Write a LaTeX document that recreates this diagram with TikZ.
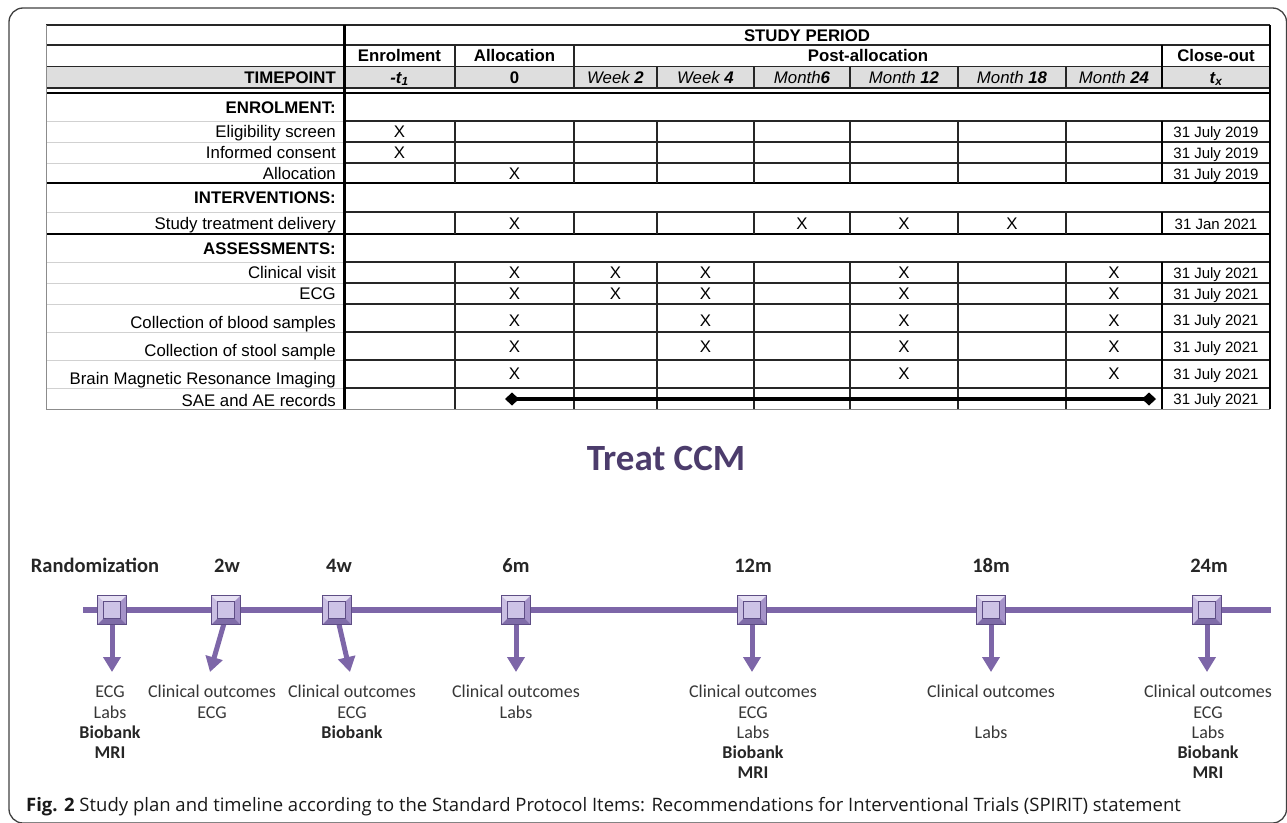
\documentclass[tikz,border=0pt]{standalone}
\usepackage{fontspec}
\setmainfont{Liberation Sans}
\newfontfamily\calfont{Carlito}
\newfontfamily\osfont{Open Sans}
\usetikzlibrary{arrows.meta}
\definecolor{tlpurple}{RGB}{125,102,168}
\definecolor{ccmpurple}{RGB}{76,60,108}
\definecolor{bvtop}{RGB}{230,224,243}
\definecolor{bvleft}{RGB}{201,189,226}
\definecolor{bvright}{RGB}{165,147,201}
\definecolor{bvbot}{RGB}{127,108,168}
\definecolor{bvin}{RGB}{205,195,230}
\definecolor{bvdark}{RGB}{94,77,133}
\definecolor{tltext}{RGB}{55,55,55}
\tikzset{
  gline/.style={line width=0.9pt, draw=black!18},
  dline/.style={line width=1.3pt, draw=black!85},
  tline/.style={line width=2.6pt, draw=black},
  bline/.style={line width=1pt, draw=black!45},
  tfont/.style={font=\fontsize{16.8}{19}\selectfont, inner sep=0pt},
  lab/.style={tfont, anchor=base east},
  hdr/.style={tfont, anchor=base, font=\fontsize{16.8}{19}\selectfont\bfseries},
  cell/.style={tfont, anchor=base},
  date/.style={inner sep=0pt, anchor=base, font=\fontsize{15}{17}\selectfont},
  tlbox/.style={rectangle, minimum size=29pt, inner sep=0pt, fill=bvleft, draw=bvdark, line width=0.8pt,
    path picture={
      \fill[bvtop] (path picture bounding box.north west) -- (path picture bounding box.north east)
        -- ([shift={(-6pt,-6pt)}]path picture bounding box.north east) -- ([shift={(6pt,-6pt)}]path picture bounding box.north west) -- cycle;
      \fill[bvright] (path picture bounding box.north east) -- (path picture bounding box.south east)
        -- ([shift={(-6pt,6pt)}]path picture bounding box.south east) -- ([shift={(-6pt,-6pt)}]path picture bounding box.north east) -- cycle;
      \fill[bvbot] (path picture bounding box.south west) -- (path picture bounding box.south east)
        -- ([shift={(-6pt,6pt)}]path picture bounding box.south east) -- ([shift={(6pt,6pt)}]path picture bounding box.south west) -- cycle;
      \filldraw[fill=bvin, draw=bvdark, line width=0.6pt] ([shift={(6pt,-6pt)}]path picture bounding box.north west) rectangle ([shift={(-6pt,6pt)}]path picture bounding box.south east);
    }},
  tlarrow/.style={draw=tlpurple, line width=5pt, -{Triangle[width=17pt,length=15pt]}},
  tllab/.style={anchor=base, inner sep=0pt, font=\calfont\bfseries\fontsize{20.5}{22}\selectfont, text=black!85},
  tlt/.style={anchor=base, inner sep=0pt, font=\calfont\fontsize{18}{20}\selectfont, text=tltext},
  tlb/.style={anchor=base, inner sep=0pt, font=\calfont\bfseries\fontsize{18}{20}\selectfont, text=black!85},
}
\begin{document}
\begin{tikzpicture}[x=1pt,y=-1pt]
\useasboundingbox (0,0) rectangle (1287,822);
% outer frame
\draw[line width=1.3pt, black!75, rounded corners=14pt] (9,8) rectangle (1286.5,823);

% ---------- table ----------
\fill[black!13] (46,67) rectangle (1270,87);
\foreach \y in {121,142,163,212,262,283,304,332,360,388} \draw[gline] (46,\y) -- (344,\y);
\foreach \y in {121,142,163,212,262,283,304,332,360,388} \draw[dline] (344,\y) -- (1270,\y);
\foreach \y in {45,66.5,88} \draw[dline] (46,\y) -- (1270,\y);
\foreach \y in {93,183,234} \draw[tline] (46,\y) -- (1270,\y);
\draw[dline] (46,25) -- (1270,25);
\draw[bline] (46,409) -- (1270,409);
\draw[bline] (46,25) -- (46,409);
\draw[line width=2pt] (1270,25) -- (1270,409);
\foreach \x in {455,574} \draw[dline] (\x,45) -- (\x,88);
\draw[tline] (1162,45) -- (1162,88);
\foreach \x in {657,754,850,958,1066} \draw[dline] (\x,66.5) -- (\x,88);
\foreach \a/\b in {121/183,212/234,262/409}{
  \foreach \x in {455,574,657,754,850,958,1066} \draw[dline] (\x,\a) -- (\x,\b);
  \draw[tline] (1162,\a) -- (1162,\b);
}
\draw[line width=3pt] (344,25) -- (344,409);

% header texts
\node[hdr] (hsp) at (807,41) {STUDY PERIOD};
\node[hdr] (henr) at (399.5,61.5) {Enrolment};
\node[hdr] (hall) at (514.5,61.5) {Allocation};
\node[hdr] (hpost) at (868,61.5) {Post-allocation};
\node[hdr] (hclose) at (1216,61.5) {Close-out};
\node[lab, font=\fontsize{16.8}{19}\selectfont\bfseries] (htp) at (336,83) {TIMEPOINT};
\node[cell] (ht1) at (399.5,83) {\bfseries\itshape -t\textsubscript{1}};
\node[cell] (ht0) at (514.5,83) {\bfseries 0};
\node[cell] (hw2) at (615.5,83) {\itshape Week \bfseries 2};
\node[cell] (hw4) at (705.5,83) {\itshape Week \bfseries 4};
\node[cell] (hm6) at (802,83) {\itshape Month\bfseries 6};
\node[cell] (hm12) at (904,83) {\itshape Month \bfseries 12};
\node[cell] (hm18) at (1012,83) {\itshape Month \bfseries 18};
\node[cell] (hm24) at (1114,83) {\itshape Month \bfseries 24};
\node[cell] (htx) at (1216,83) {\bfseries\itshape t\textsubscript{x}};

% row labels
\node[lab, font=\fontsize{16.8}{19}\selectfont\bfseries] (lenr) at (336,113) {ENROLMENT:};
\node[lab] (lelig) at (336,137.5) {Eligibility screen};
\node[lab] (linf) at (336,158.5) {Informed consent};
\node[lab] (lall) at (336,179) {Allocation};
\node[lab, font=\fontsize{16.8}{19}\selectfont\bfseries] (lint) at (336,203.5) {INTERVENTIONS:};
\node[lab] (lstu) at (336,229) {Study treatment delivery};
\node[lab, font=\fontsize{16.8}{19}\selectfont\bfseries] (lass) at (336,254) {ASSESSMENTS:};
\node[lab] (lcli) at (336,278.5) {Clinical visit};
\node[lab] (lecg) at (336,299.5) {ECG};
\node[lab] (lblo) at (336,328) {Collection of blood samples};
\node[lab] (lsto) at (336,356) {Collection of stool sample};
\node[lab] (lbra) at (336,384) {Brain Magnetic Resonance Imaging};
\node[lab] (lsae) at (336,406) {SAE and AE records};

% X marks
\foreach \n/\x/\y in {
  a/399.5/137.5, b/399.5/158.5, c/514.5/179,
  d/514.5/229, e/802/229, f/904/229, g/1012/229,
  h/514.5/278.5, i/615.5/278.5, j/705.5/278.5, k/904/278.5, l/1114/278.5,
  m/514.5/299.5, n/615.5/299.5, o/705.5/299.5, p/904/299.5, q/1114/299.5,
  r/514.5/326, s/705.5/326, t/904/326, u/1114/326,
  v/514.5/352, w/705.5/352, x/904/352, y/1114/352,
  z/514.5/379, za/904/379, zb/1114/379}
  \node[cell] (x\n) at (\x,\y) {X};

% close-out dates
\node[date] (d1) at (1216,137.5) {31 July 2019};
\node[date] (d2) at (1216,158.5) {31 July 2019};
\node[date] (d3) at (1216,179) {31 July 2019};
\node[date] (d4) at (1216,229) {31 Jan 2021};
\node[date] (d5) at (1216,278.5) {31 July 2021};
\node[date] (d6) at (1216,299.5) {31 July 2021};
\node[date] (d7) at (1216,325) {31 July 2021};
\node[date] (d8) at (1216,352) {31 July 2021};
\node[date] (d9) at (1216,379) {31 July 2021};
\node[date] (d10) at (1216,404) {31 July 2021};

% SAE span
\coordinate (saeL) at (505,399);
\coordinate (saeR) at (1156,399);
\draw[line width=4pt, {Diamond[width=13pt,length=14pt]}-{Diamond[width=13pt,length=14pt]}] (saeL) -- (saeR);

% ---------- title ----------
\node[font=\calfont\bfseries\fontsize{37}{40}\selectfont, text=ccmpurple, inner sep=0pt] (title) at (666,458) {Treat CCM};

% ---------- timeline ----------
\coordinate (tlL) at (83,610);
\coordinate (tlR) at (1271,610);
\draw[tlpurple, line width=6pt] (tlL) -- (tlR);

\node[tllab] (nR) at (95,572) {Randomization};
\node[tllab] (n2) at (227,572) {2w};
\node[tllab] (n4) at (339,572) {4w};
\node[tllab] (n6) at (516,572) {6m};
\node[tllab] (n12) at (753,572) {12m};
\node[tllab] (n18) at (991,572) {18m};
\node[tllab] (n24) at (1209,572) {24m};

\coordinate (aR) at (112,672);
\coordinate (a2) at (210,672);
\coordinate (a4) at (350,672);
\coordinate (a6) at (516,672);
\coordinate (a12) at (752,672);
\coordinate (a18) at (991,672);
\coordinate (a24) at (1207,672);
\coordinate (sR) at (112,620);
\coordinate (s2) at (225,620);
\coordinate (s4) at (338,620);
\coordinate (s6) at (516,620);
\coordinate (s12) at (752,620);
\coordinate (s18) at (991,620);
\coordinate (s24) at (1207,620);
\foreach \k in {R,2,4,6,12,18,24} \draw[tlarrow] (s\k) -- (a\k);

\node[tlbox] (bR) at (112,610) {};
\node[tlbox] (b2) at (226,610) {};
\node[tlbox] (b4) at (337,610) {};
\node[tlbox] (b6) at (516,610) {};
\node[tlbox] (b12) at (752,610) {};
\node[tlbox] (b18) at (991,610) {};
\node[tlbox] (b24) at (1207,610) {};

% texts under timeline
\node[tlt] (tR1) at (110,697) {ECG};
\node[tlt] (tR2) at (110,718) {Labs};
\node[tlb] (tR3) at (110,738) {Biobank};
\node[tlb] (tR4) at (110,758) {MRI};

\node[tlt] (t21) at (212,697) {Clinical outcomes};
\node[tlt] (t22) at (212,718) {ECG};

\node[tlt] (t41) at (352,697) {Clinical outcomes};
\node[tlt] (t42) at (352,718) {ECG};
\node[tlb] (t43) at (352,738) {Biobank};

\node[tlt] (t61) at (516,697) {Clinical outcomes};
\node[tlt] (t62) at (516,718) {Labs};

\node[tlt] (t121) at (753,697) {Clinical outcomes};
\node[tlt] (t122) at (753,718) {ECG};
\node[tlt] (t123) at (753,738) {Labs};
\node[tlb] (t124) at (753,758) {Biobank};
\node[tlb] (t125) at (753,778) {MRI};

\node[tlt] (t181) at (991,697) {Clinical outcomes};
\node[tlt] (t183) at (991,738) {Labs};

\node[tlt] (t241) at (1208,697) {Clinical outcomes};
\node[tlt] (t242) at (1208,718) {ECG};
\node[tlt] (t243) at (1208,738) {Labs};
\node[tlb] (t244) at (1208,758) {Biobank};
\node[tlb] (t245) at (1208,778) {MRI};

% caption
\node[anchor=base west, inner sep=0pt, font=\osfont\fontsize{18.5}{20}\selectfont, text=black!90] (cap) at (26,811)
  {\textbf{Fig. 2} Study plan and timeline according to the Standard Protocol Items: Recommendations for Interventional Trials (SPIRIT) statement};
\end{tikzpicture}
\end{document}
